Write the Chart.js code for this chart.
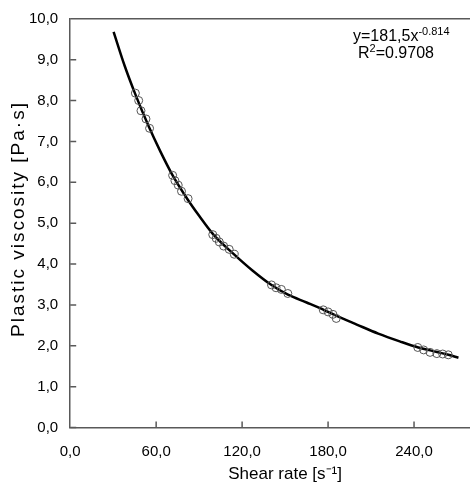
<!DOCTYPE html>
<html>
<head>
<meta charset="utf-8">
<script src="https://cdn.jsdelivr.net/npm/chart.js@4.4.0/dist/chart.umd.min.js"></script>
<style>
html, body { margin: 0; padding: 0; overflow: hidden; background: #fff; }
#wrap { width: 470px; height: 484px; overflow: hidden; }
</style>
</head>
<body>
<div id="wrap"><canvas id="myScatter" width="515" height="484"></canvas></div>
<script>
// measured points (shear rate, plastic viscosity)
var shearRate = [45.5, 47.8, 49.4, 52.9, 55.4,
                 71.5, 73.1, 75.4, 77.7, 82.3,
                 99.5, 101.9, 104.1, 107.1, 111.0, 114.5,
                 140.5, 143.7, 147.4, 151.9,
                 176.6, 180.0, 183.4, 185.7,
                 242.6, 246.7, 251.2, 255.9, 260.0, 263.9];
var viscosity = [8.18, 8.00, 7.75, 7.55, 7.32,
                 6.17, 6.04, 5.93, 5.78, 5.60,
                 4.72, 4.63, 4.54, 4.44, 4.36, 4.24,
                 3.49, 3.42, 3.38, 3.28,
                 2.88, 2.83, 2.77, 2.67,
                 1.96, 1.90, 1.84, 1.81, 1.80, 1.78];

// trend line
var trendX = [30.3, 38.0, 45.5, 55.0, 63.0, 71.5, 82.0, 90.0, 100.0, 114.0, 127.0, 140.0, 152.0, 165.0, 177.0, 186.0, 200.0, 215.0, 230.0, 243.0, 256.0, 264.0, 271.0];
var trendY = [9.68, 8.85, 8.15, 7.35, 6.75, 6.17, 5.58, 5.18, 4.72, 4.25, 3.85, 3.50, 3.25, 3.06, 2.88, 2.73, 2.52, 2.30, 2.11, 1.96, 1.85, 1.78, 1.71];

var xTitle = 'Shear rate [s\u207B\u00B9]';
var yTitle = 'Plastic viscosity [Pa\u00B7s]';
var fitText = 'y=181,5x';
var fitExp = '-0.814';
var r2Text = '=0.9708';

var fontName = '"Liberation Sans", Arial, sans-serif';

function pairs(xs, ys) {
    var out = [];
    for (var i = 0; i < xs.length; i++) out.push({x: xs[i], y: ys[i]});
    return out;
}

function commaLabel(v) {
    return v.toFixed(1).replace('.', ',');
}

// ticks pointing into the plot, top border, y title, equation text
var extras = {
    id: 'extras',
    afterDraw: function (chart) {
        var ctx = chart.ctx, a = chart.chartArea;
        var xs = chart.scales.x, ys = chart.scales.y;
        ctx.save();
        ctx.strokeStyle = '#595959';
        ctx.lineWidth = 1.5;
        ctx.beginPath();
        ctx.moveTo(a.left, a.top);
        ctx.lineTo(a.right, a.top);
        ys.ticks.forEach(function (t) {
            var p = ys.getPixelForValue(t.value);
            ctx.moveTo(a.left, p);
            ctx.lineTo(a.left + 6, p);
        });
        xs.ticks.forEach(function (t) {
            if (t.value === 0) return;
            var p = xs.getPixelForValue(t.value);
            ctx.moveTo(p, a.bottom);
            ctx.lineTo(p, a.bottom - 6);
        });
        ctx.stroke();

        ctx.fillStyle = '#000';

        // y title, stretched a little like the original
        ctx.save();
        ctx.translate(19, 219);
        ctx.rotate(-Math.PI / 2);
        ctx.font = '19px ' + fontName;
        ctx.letterSpacing = '2px';
        ctx.textAlign = 'center';
        ctx.textBaseline = 'middle';
        ctx.fillText(yTitle, 0, 0);
        ctx.restore();

        ctx.textBaseline = 'alphabetic';
        ctx.textAlign = 'left';
        ctx.font = '16px ' + fontName;
        var x0 = 353, y0 = 41;
        ctx.fillText(fitText, x0, y0);
        var w = ctx.measureText(fitText).width;
        ctx.font = '11px ' + fontName;
        ctx.fillText(fitExp, x0 + w, y0 - 6);

        var x1 = 358, y1 = 58;
        ctx.font = '16px ' + fontName;
        ctx.fillText('R', x1, y1);
        var wr = ctx.measureText('R').width;
        ctx.font = '11px ' + fontName;
        ctx.fillText('2', x1 + wr, y1 - 6);
        var w2 = ctx.measureText('2').width;
        ctx.font = '16px ' + fontName;
        ctx.fillText(r2Text, x1 + wr + w2, y1);
        ctx.restore();
    }
};

new Chart(document.getElementById('myScatter'), {
    type: 'scatter',
    data: {
        datasets: [
            {
                label: 'fit',
                data: pairs(trendX, trendY),
                showLine: true,
                borderColor: '#000',
                borderWidth: 2.5,
                cubicInterpolationMode: 'monotone',
                pointRadius: 0,
                order: 2
            },
            {
                label: 'measured',
                data: pairs(shearRate, viscosity),
                pointStyle: 'circle',
                pointRadius: 4,
                pointBorderWidth: 1,
                pointBorderColor: '#555',
                pointBackgroundColor: 'rgba(0,0,0,0)',
                order: 1
            }
        ]
    },
    options: {
        responsive: false,
        animation: false,
        layout: { padding: { top: 9, right: 6, left: 17, bottom: 0 } },
        plugins: { legend: { display: false }, tooltip: { enabled: false } },
        scales: {
            x: {
                type: 'linear',
                min: 0,
                max: 300,
                grid: { display: false, drawTicks: false },
                border: { color: '#595959', width: 1.5 },
                ticks: {
                    stepSize: 60,
                    padding: 15,
                    color: '#000',
                    font: { family: fontName, size: 15 },
                    callback: function (v) { return v >= 300 ? '' : commaLabel(v); }
                },
                title: {
                    display: true,
                    text: xTitle,
                    color: '#000',
                    font: { family: fontName, size: 17 },
                    padding: { top: -11, bottom: -1 }
                }
            },
            y: {
                min: 0,
                max: 10,
                grid: { display: false, drawTicks: false },
                border: { color: '#595959', width: 1.5 },
                ticks: {
                    stepSize: 1,
                    padding: 12,
                    color: '#000',
                    font: { family: fontName, size: 15, lineHeight: 0.9 },
                    callback: function (v) { return commaLabel(v); }
                },
                title: { display: false }
            }
        }
    },
    plugins: [extras]
});
</script>
</body>
</html>
